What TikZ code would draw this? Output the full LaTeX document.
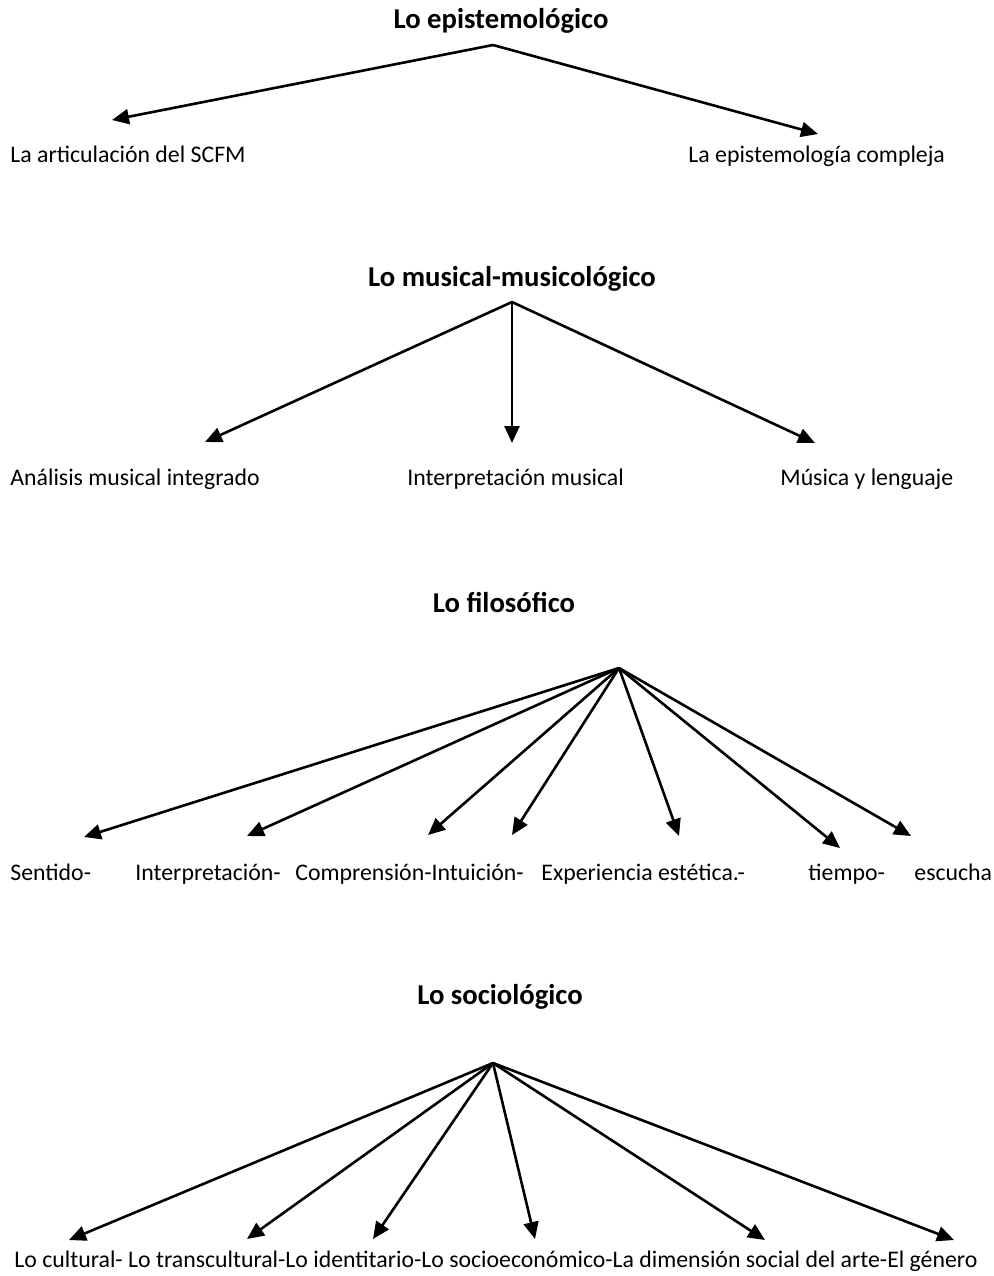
\documentclass[tikz,border=0pt]{standalone}
\usepackage{fontspec}
\setmainfont{Carlito}
\usetikzlibrary{arrows.meta}
\tikzset{
  head/.style={font=\fontsize{14.35pt}{17pt}\selectfont\bfseries, anchor=base, inner sep=0pt},
  leaf/.style={font=\fontsize{11.9pt}{14pt}\selectfont, anchor=base west, inner sep=0pt},
  branch/.style={line width=1.3pt, -{Triangle[length=8.5pt,width=7.5pt]}},
}
\begin{document}
\begin{tikzpicture}[x=0.5pt,y=-0.5pt]
\useasboundingbox[fill=white] (0,0) rectangle (993,1276);

% --- Lo epistemológico
\node[head] (t1) at (501,28) {Lo epistemológico};
\coordinate (a1) at (493,45);
\coordinate (a1l) at (112,120);
\coordinate (a1r) at (818,134);
\node[leaf] (e1) at (10,162) {La articulación del SCFM};
\node[leaf] (e2) at (688,162) {La epistemología compleja};
\draw[branch] (a1) -- (a1l);
\draw[branch] (a1) -- (a1r);

% --- Lo musical-musicológico
\node[head] (t2) at (512,286) {Lo musical-musicológico};
\coordinate (a2) at (512,302);
\coordinate (a2l) at (205,442);
\coordinate (a2m) at (512,443);
\coordinate (a2r) at (815,443);
\node[leaf] (m1) at (10,485) {Análisis musical integrado};
\node[leaf] (m2) at (407,485) {Interpretación musical};
\node[leaf] (m3) at (780,485) {Música y lenguaje};
\draw[branch] (a2) -- (a2l);
\draw[branch] (a2) -- (a2m);
\draw[branch] (a2) -- (a2r);

% --- Lo filosófico
\node[head] (t3) at (504,612) {Lo filosófico};
\coordinate (a3) at (619,668);
\coordinate (f1) at (84,837);
\coordinate (f2) at (247,836);
\coordinate (f3) at (428,835);
\coordinate (f4) at (512,835);
\coordinate (f5) at (679,836);
\coordinate (f6) at (840,848);
\coordinate (f7) at (911,836);
\node[leaf] (p1) at (10,880) {Sentido-};
\node[leaf] (p2) at (135,880) {Interpretación-};
\node[leaf] (p3) at (295,880) {Comprensión-Intuición-};
\node[leaf] (p4) at (541,880) {Experiencia estética.-};
\node[leaf] (p5) at (808,880) {tiempo-};
\node[leaf] (p6) at (914,880) {escucha};
\foreach \k in {f1,f2,f3,f4,f5,f6,f7}
  \draw[branch] (a3) -- (\k);

% --- Lo sociológico
\node[head] (t4) at (500,1004) {Lo sociológico};
\coordinate (a4) at (493,1063);
\coordinate (s1) at (69,1240);
\coordinate (s2) at (247,1239);
\coordinate (s3) at (373,1239);
\coordinate (s4) at (535,1239);
\coordinate (s5) at (765,1240);
\coordinate (s6) at (954,1240);
\node[leaf] (q1) at (14,1267) {Lo cultural- Lo transcultural-Lo identitario-Lo socioeconómico-La dimensión social del arte-El género};
\foreach \k in {s1,s2,s3,s4,s5,s6}
  \draw[branch] (a4) -- (\k);
\end{tikzpicture}
\end{document}
